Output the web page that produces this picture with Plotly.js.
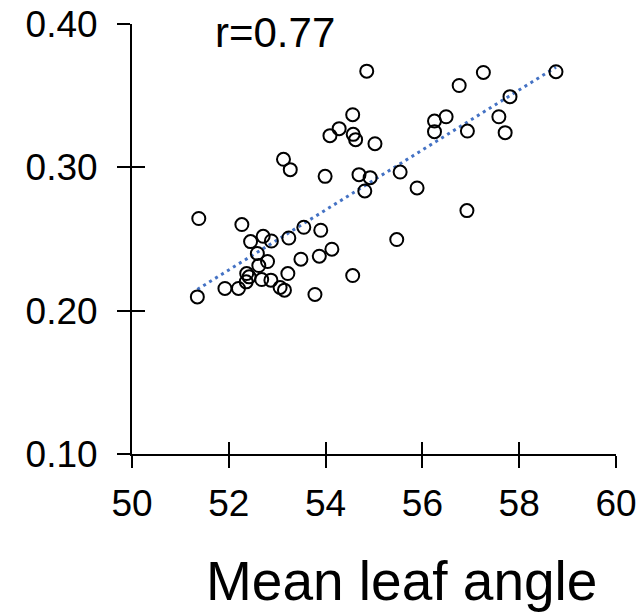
<!DOCTYPE html>
<html>
<head>
<meta charset="utf-8">
<script src="https://cdn.plot.ly/plotly-3.0.1.min.js"></script>
<style>html,body{margin:0;padding:0;background:#fff;}#chart{width:639px;height:613px;}</style>
</head>
<body>
<div id="chart"></div>
<script>
// Mean leaf angle (x) vs value (y)
const leafAngle = [51.35, 51.38, 51.92, 52.20, 52.27, 52.36, 52.42, 52.37, 52.45, 52.59,
  52.62, 52.68, 52.71, 52.80, 52.88, 52.87, 53.06, 53.13, 53.15, 53.22,
  53.24, 53.27, 53.49, 53.55, 53.78, 53.87, 53.90, 53.99, 54.09, 54.13,
  54.28, 54.56, 54.56, 54.57, 54.62, 54.69, 54.81, 54.85, 54.92, 55.02,
  55.47, 55.54, 55.89, 56.25, 56.25, 56.49, 56.76, 56.92, 56.93, 57.26,
  57.58, 57.71, 57.81, 58.76];
const yValue = [0.2096, 0.2643, 0.2155, 0.2155, 0.2601, 0.2201, 0.2236, 0.2259, 0.2482, 0.2399,
  0.2315, 0.2217, 0.2519, 0.2343, 0.2486, 0.2213, 0.2162, 0.3056, 0.2143, 0.2259,
  0.2507, 0.2984, 0.2359, 0.2582, 0.2113, 0.2380, 0.2561, 0.2937, 0.3221, 0.2429,
  0.3270, 0.3367, 0.2245, 0.3230, 0.3193, 0.2949, 0.2835, 0.3671, 0.2928, 0.3165,
  0.2496, 0.2967, 0.2856, 0.3323, 0.3249, 0.3353, 0.3571, 0.2698, 0.3253, 0.3662,
  0.3353, 0.3242, 0.3493, 0.3667];
// trend line end points
const trendX = [51.35, 58.76];
const trendY = [0.2148, 0.3699];
const xTicks = [50, 52, 54, 56, 58, 60];
const yTicks = [0.10, 0.20, 0.30, 0.40];
const rLabel = 'r=0.77';
const xTitle = 'Mean leaf angle';

const font = 'Liberation Sans, Arial, sans-serif';
const traces = [
  {x: trendX, y: trendY, type: 'scatter', mode: 'lines',
   line: {color: '#4472C4', width: 3, dash: '3px,4px'}, hoverinfo: 'skip', showlegend: false},
  {x: leafAngle, y: yValue, type: 'scatter', mode: 'markers',
   marker: {symbol: 'circle-open', size: 13, color: '#000', line: {width: 2, color: '#000'}},
   showlegend: false},
  {x: [], y: [], xaxis: 'x2', yaxis: 'y2', type: 'scatter', mode: 'markers', showlegend: false, hoverinfo: 'skip'}
];
const axCommon = {showgrid: false, zeroline: false, showline: true, linecolor: '#000', linewidth: 2,
  tickcolor: '#000', tickwidth: 2, ticklen: 12};
const layout = {
  width: 639, height: 613,
  margin: {l: 132, r: 23, t: 23.5, b: 159, pad: 0},
  paper_bgcolor: '#fff', plot_bgcolor: '#fff',
  showlegend: false,
  xaxis: Object.assign({}, axCommon, {range: [50, 60], tickvals: xTicks, ticktext: xTicks.map(String),
    ticks: 'outside', tickfont: {family: font, size: 37, color: '#000'}, ticklabelstandoff: 4}),
  yaxis: Object.assign({}, axCommon, {range: [0.10, 0.40], tickvals: yTicks, ticktext: yTicks.map(v => v.toFixed(2)),
    ticks: 'outside', ticklen: 13, tickfont: {family: font, size: 37, color: '#000'}, ticklabelstandoff: 12}),
  xaxis2: Object.assign({}, axCommon, {range: [50, 60], tickvals: xTicks, ticks: 'inside', overlaying: 'x',
    anchor: 'y2', showticklabels: false}),
  yaxis2: Object.assign({}, axCommon, {range: [0.10, 0.40], tickvals: yTicks, ticks: 'inside', ticklen: 13, overlaying: 'y',
    anchor: 'x2', side: 'left', showticklabels: false}),
  annotations: [
    {text: rLabel, xref: 'x', yref: 'y', x: 52.95, y: 0.394, showarrow: false,
     font: {family: font, size: 42, color: '#000'}, xanchor: 'center', yanchor: 'middle'},
    {text: xTitle, xref: 'paper', yref: 'paper', x: (401 - 132) / 484, y: -(581 - 454) / 430.5,
     showarrow: false, font: {family: font, size: 55, color: '#000'}, xanchor: 'center', yanchor: 'middle'}
  ]
};
Plotly.newPlot('chart', traces, layout, {staticPlot: true, displayModeBar: false});
</script>
</body>
</html>
